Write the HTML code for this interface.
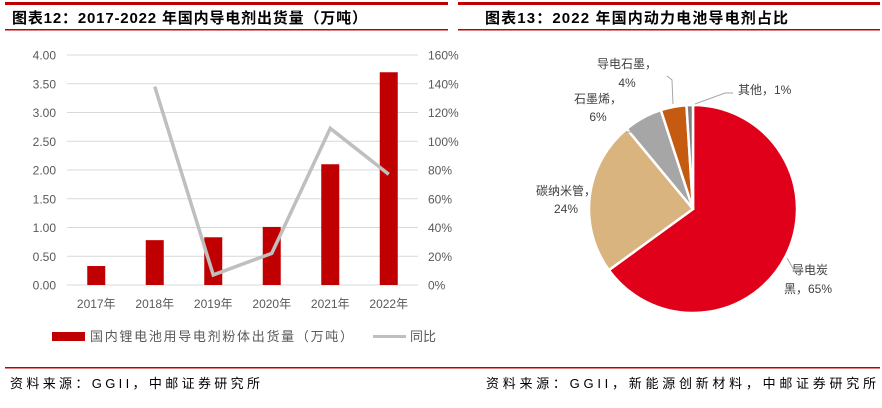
<!DOCTYPE html>
<html><head><meta charset="utf-8">
<style>
body{margin:0;background:#fff;width:882px;height:408px;overflow:hidden;font-family:"Liberation Sans","Noto Sans CJK SC",sans-serif;}
svg{position:absolute;left:0;top:0}
</style></head>
<body>
<svg width="882" height="408">
<rect x="5" y="2" width="443" height="3" fill="#c00000"/>
<rect x="458" y="2" width="422" height="3" fill="#c00000"/>
<text x="12" y="23" font-size="15" font-weight="bold" fill="#000" textLength="355" lengthAdjust="spacing">图表12：2017-2022 年国内导电剂出货量（万吨）</text>
<text x="485" y="23" font-size="15" font-weight="bold" fill="#000" textLength="303" lengthAdjust="spacing">图表13：2022 年国内动力电池导电剂占比</text>
<rect x="5" y="29" width="443" height="1.5" fill="#c00000"/>
<rect x="458" y="29" width="422" height="1.5" fill="#c00000"/>
<g id="bar"></g>
<g id="pie"></g>
<rect x="52" y="332" width="33" height="9" fill="#c00000"/>
<text x="90" y="341" font-size="13" fill="#595959" textLength="263" lengthAdjust="spacing">国内锂电池用导电剂粉体出货量（万吨）</text>
<line x1="373" y1="336.5" x2="406" y2="336.5" stroke="#bfbfbf" stroke-width="3"/>
<text x="410" y="341" font-size="13" fill="#595959">同比</text>
<rect x="5" y="367" width="875" height="1.5" fill="#c00000"/>
<text x="10" y="388" font-size="13" fill="#000" textLength="250" lengthAdjust="spacing">资料来源：GGII，中邮证券研究所</text>
<text x="486" y="388" font-size="13" fill="#000" textLength="390" lengthAdjust="spacing">资料来源：GGII，新能源创新材料，中邮证券研究所</text>
</svg>
<script>
const categories=["2017年","2018年","2019年","2020年","2021年","2022年"];
const volumes=[0.33,0.78,0.83,1.01,2.10,3.70];
const yoy=[null,138,7,22,109,77];
const leftTicks=["0.00","0.50","1.00","1.50","2.00","2.50","3.00","3.50","4.00"];
const rightTicks=["0%","20%","40%","60%","80%","100%","120%","140%","160%"];
const pieLabels=["导电炭黑","碳纳米管","石墨烯","导电石墨","其他"];
const pieValues=[65,24,6,4,1];
const NS="http://www.w3.org/2000/svg";
function mk(p,t,a){const e=document.createElementNS(NS,t);for(const k in a)e.setAttribute(k,a[k]);p.appendChild(e);return e;}
const bar=document.getElementById('bar');
const x0=67,x1=418,yTop=55,yBot=285;
const band=(x1-x0)/categories.length;
const xc=i=>x0+band*(i+0.5);
const yL=v=>yBot-(v/4)*(yBot-yTop);
const yR=v=>yBot-(v/160)*(yBot-yTop);
leftTicks.forEach((t,i)=>{
 const y=yBot-i*(yBot-yTop)/(leftTicks.length-1);
 const g=mk(bar,'line',{x1:x0,x2:x1,y1:y,y2:y,stroke:'#d9d9d9','stroke-width':1});
 
 const a=mk(bar,'text',{x:56,y:y+4.5,'font-size':12,fill:'#595959','text-anchor':'end'});a.textContent=t;
 
 const b=mk(bar,'text',{x:428,y:y+4.5,'font-size':12,fill:'#595959'});b.textContent=rightTicks[i];
 
});
categories.forEach((c,i)=>{
 const r=mk(bar,'rect',{x:xc(i)-9,y:yL(volumes[i]),width:18,height:yBot-yL(volumes[i]),fill:'#c00000'});
 
 const t=mk(bar,'text',{x:xc(i),y:308,'font-size':12,fill:'#595959','text-anchor':'middle'});t.textContent=c;
 
});
let pts=[];yoy.forEach((v,i)=>{if(v!==null)pts.push(xc(i)+','+yR(v));});
const pl=mk(bar,'polyline',{points:pts.join(' '),fill:'none',stroke:'#bfbfbf','stroke-width':3.5});

const pie=document.getElementById('pie');
const cx=693,cy=209,R=104;
const colors=["#e00019","#d9b47f","#a6a6a6","#c55a11","#7f7f7f"];
const labelPos=[[[810,274],[808,293]],[[566,195],[566,213]],[[598,103],[598,121]],[[627,68],[627,87]],[[738,94]]];
const total=pieValues.reduce((a,b)=>a+b,0);
let ang=0;
pieValues.forEach((v,i)=>{
 const a0=ang,a1=ang+v/total*2*Math.PI;ang=a1;
 const p=a=>[cx+R*Math.sin(a),cy-R*Math.cos(a)];
 const [sx,sy]=p(a0),[ex,ey]=p(a1);
 const s=mk(pie,'path',{d:`M${cx},${cy}L${sx},${sy}A${R},${R} 0 ${a1-a0>Math.PI?1:0} 1 ${ex},${ey}Z`,fill:colors[i],stroke:'#fff','stroke-width':2.5});
 
 const lp=labelPos[i];
 if(lp.length===2){
  const t1=mk(pie,'text',{x:lp[0][0],y:lp[0][1],'font-size':12,fill:'#404040','text-anchor':'middle'});
  t1.textContent=pieLabels[i]+'，';if(i===0)t1.textContent='导电炭';
  
  const t2=mk(pie,'text',{x:lp[1][0],y:lp[1][1],'font-size':12,fill:'#404040','text-anchor':'middle'});
  t2.textContent=(i===0?'黑，':'')+v+'%';
  
 }else{
  const t=mk(pie,'text',{x:lp[0][0],y:lp[0][1],'font-size':12,fill:'#404040'});t.textContent=pieLabels[i]+'，'+v+'%';
  
 }
});
[["M787,258 L795,272 L803,272"],["M626,132 L638,132 L645,143"],["M667,76 L672,80 L673,104"],["M695,104 L725,93 L733,93"]].forEach(d=>{
 const l=mk(pie,'path',{d:d[0],fill:'none',stroke:'#a6a6a6','stroke-width':1});
 
});
</script>
</body></html>
